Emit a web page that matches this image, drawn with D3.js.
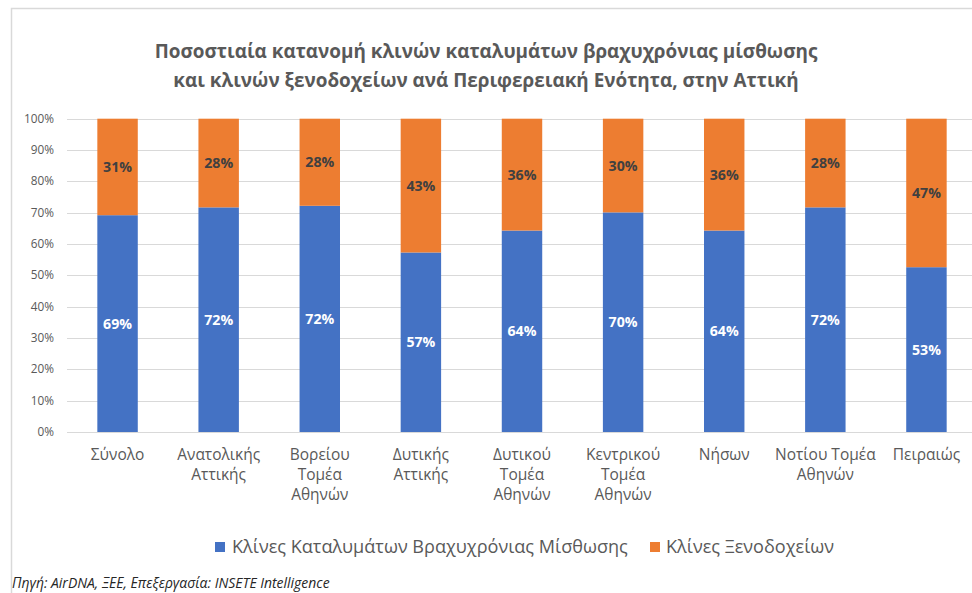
<!DOCTYPE html>
<html>
<head>
<meta charset="utf-8">
<script src="https://cdn.jsdelivr.net/npm/d3@7"></script>
<style>
  body { margin: 0; background: #fff; }
  svg { font-family: 'Open Sans', 'Noto Sans', sans-serif; display: block; }
</style>
</head>
<body>
<svg id="chart" width="972" height="593"></svg>
<script>
// chart data
const categories = [
  ['Σύνολο'],
  ['Ανατολικής', 'Αττικής'],
  ['Βορείου', 'Τομέα', 'Αθηνών'],
  ['Δυτικής', 'Αττικής'],
  ['Δυτικού', 'Τομέα', 'Αθηνών'],
  ['Κεντρικού', 'Τομέα', 'Αθηνών'],
  ['Νήσων'],
  ['Νοτίου Τομέα', 'Αθηνών'],
  ['Πειραιώς']
];
const shortStay = [69.2, 71.7, 72.2, 57.3, 64.3, 70.1, 64.3, 71.7, 52.6];
const hotels = [30.8, 28.3, 27.8, 42.7, 35.7, 29.9, 35.7, 28.3, 47.4];
const seriesNames = ['Κλίνες Καταλυμάτων Βραχυχρόνιας Μίσθωσης', 'Κλίνες Ξενοδοχείων'];
const yTicks = [0, 10, 20, 30, 40, 50, 60, 70, 80, 90, 100];
const titleLines = [
  'Ποσοστιαία κατανομή κλινών καταλυμάτων βραχυχρόνιας μίσθωσης',
  'και κλινών ξενοδοχείων ανά Περιφερειακή Ενότητα, στην Αττική'
];
const sourceText = 'Πηγή: AirDNA, ΞΕΕ, Επεξεργασία: INSETE Intelligence';

const blue = '#4472C4', orange = '#ED7D31', grey = '#595959', gridColor = '#d9d9d9';

let svg = d3.select('#chart');

// shrink / grow a text's font size so it takes the given width
let fitFont = function (sel, target) {
  let node = sel.node();
  let size = parseFloat(sel.attr('font-size'));
  let w = node.getComputedTextLength();
  return size * target / w;
};

// chart frame (cropped on the right / bottom in the reference)
svg.append('rect')
  .attr('x', 11.5).attr('y', 8.5)
  .attr('width', 1000).attr('height', 1000)
  .attr('fill', 'none')
  .attr('stroke', gridColor)
  .attr('stroke-width', 1.5);

let xScale = d3.scaleBand()
  .domain(d3.range(categories.length))
  .range([67, 977])
  .paddingInner(0.6)
  .paddingOuter(0.3);

let yScale = d3.scaleLinear()
  .domain([0, 100])
  .range([432, 118.7]);

// title
let title = svg.append('g')
  .attr('fill', grey)
  .attr('font-weight', 'bold')
  .attr('text-anchor', 'middle');
title.selectAll('text')
  .data(titleLines)
  .enter()
  .append('text')
  .attr('x', 486)
  .attr('y', (d, i) => 58 + i * 29)
  .attr('font-size', 20)
  .text((d) => d);
let tSize = fitFont(title.select('text'), 663);
title.selectAll('text').attr('font-size', tSize);

// gridlines + y tick labels
let yAxis = svg.append('g').attr('class', 'y axis');
yAxis.selectAll('line')
  .data(yTicks)
  .enter()
  .append('line')
  .attr('x1', 67)
  .attr('x2', 977)
  .attr('y1', (d) => Math.round(yScale(d)) + 0.5)
  .attr('y2', (d) => Math.round(yScale(d)) + 0.5)
  .attr('stroke', gridColor)
  .attr('stroke-width', 1);
yAxis.selectAll('text')
  .data(yTicks)
  .enter()
  .append('text')
  .attr('x', 54)
  .attr('y', (d) => yScale(d))
  .attr('dy', '0.35em')
  .attr('text-anchor', 'end')
  .attr('fill', grey)
  .attr('font-size', 12)
  .text((d) => d + '%');
let ySize = fitFont(yAxis.select('text:last-child'), 30);
yAxis.selectAll('text').attr('font-size', ySize);

// stacked bars
let bars = svg.append('g').attr('class', 'bars');
bars.selectAll('.blue')
  .data(shortStay)
  .enter()
  .append('rect')
  .attr('class', 'blue')
  .attr('x', (d, i) => xScale(i))
  .attr('width', xScale.bandwidth())
  .attr('y', (d) => yScale(d))
  .attr('height', (d) => yScale(0) - yScale(d))
  .attr('fill', blue);
bars.selectAll('.orange')
  .data(hotels)
  .enter()
  .append('rect')
  .attr('class', 'orange')
  .attr('x', (d, i) => xScale(i))
  .attr('width', xScale.bandwidth())
  .attr('y', (d, i) => yScale(shortStay[i] + d))
  .attr('height', (d, i) => yScale(shortStay[i]) - yScale(shortStay[i] + d))
  .attr('fill', orange);

// data labels
let labels = svg.append('g')
  .attr('font-weight', 'bold')
  .attr('text-anchor', 'middle');
labels.selectAll('.lb')
  .data(shortStay)
  .enter()
  .append('text')
  .attr('class', 'lb')
  .attr('x', (d, i) => xScale(i) + xScale.bandwidth() / 2)
  .attr('y', (d) => yScale(d / 2))
  .attr('dy', '0.35em')
  .attr('fill', '#fff')
  .attr('font-size', 14)
  .text((d) => Math.round(d) + '%');
labels.selectAll('.lo')
  .data(hotels)
  .enter()
  .append('text')
  .attr('class', 'lo')
  .attr('x', (d, i) => xScale(i) + xScale.bandwidth() / 2)
  .attr('y', (d, i) => yScale(shortStay[i] + d / 2))
  .attr('dy', '0.35em')
  .attr('fill', '#404040')
  .attr('font-size', 14)
  .text((d) => Math.round(d) + '%');
let lSize = fitFont(labels.select('text'), 29);
labels.selectAll('text').attr('font-size', lSize);

// category labels
let xAxis = svg.append('g')
  .attr('fill', grey)
  .attr('text-anchor', 'middle');
let xText = xAxis.selectAll('text')
  .data(categories)
  .enter()
  .append('text')
  .attr('font-size', 14)
  .attr('transform', (d, i) => 'translate(' + (xScale(i) + xScale.bandwidth() / 2) + ',0)');
xText.selectAll('tspan')
  .data((d) => d)
  .enter()
  .append('tspan')
  .attr('x', 0)
  .attr('y', (d, j) => 455 + j * 20)
  .attr('dy', '0.35em')
  .text((d) => d);
let probe = xAxis.append('text').attr('font-size', 14).text('Ανατολικής');
let xSize = fitFont(probe, 83);
probe.remove();
xAxis.selectAll('text').attr('font-size', xSize);

// legend
let legend = svg.append('g').attr('fill', grey);
let leg1 = legend.append('text')
  .attr('x', 232).attr('y', 547).attr('dy', '0.35em')
  .attr('font-size', 16)
  .text(seriesNames[0]);
let gSize = fitFont(leg1, 396);
leg1.attr('font-size', gSize);
legend.append('text')
  .attr('x', 666).attr('y', 547).attr('dy', '0.35em')
  .attr('font-size', gSize)
  .text(seriesNames[1]);
legend.append('rect')
  .attr('x', 215).attr('y', 542).attr('width', 10).attr('height', 10)
  .attr('fill', blue);
legend.append('rect')
  .attr('x', 650).attr('y', 542).attr('width', 10).attr('height', 10)
  .attr('fill', orange);

// source note
let src = svg.append('text')
  .attr('x', 12).attr('y', 588)
  .attr('font-size', 11)
  .attr('font-style', 'italic')
  .attr('fill', '#262626')
  .text(sourceText);
src.attr('font-size', fitFont(src, 318));
</script>
</body>
</html>
